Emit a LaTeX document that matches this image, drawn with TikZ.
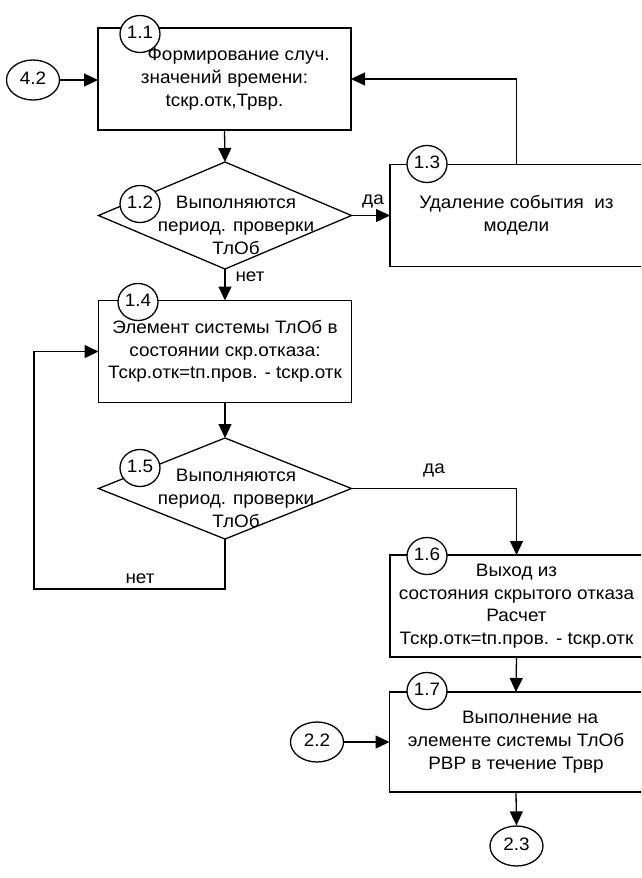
\documentclass[tikz,border=0pt]{standalone}
\usepackage{fontspec}
\setmainfont{Liberation Sans}
\usepackage{graphicx}
\usetikzlibrary{shapes.geometric,arrows.meta}
% text is a little wider than high in the drawing
\newcommand{\sx}[1]{\scalebox{1.05}[1]{\begin{tabular}{@{}c@{}}#1\end{tabular}}}
\tikzset{box/.style={draw, rectangle, minimum width=253pt, minimum height=102pt, inner sep=0pt, outer sep=0pt},
dec/.style={draw, diamond, minimum width=253pt, inner sep=0pt, outer sep=0pt},
num/.style={draw, ellipse, fill=white, minimum width=40pt, minimum height=37pt, inner sep=0pt},
con/.style={draw, ellipse, minimum width=53pt, minimum height=40pt, inner sep=0pt},
arr/.style={-{Triangle[length=14pt,width=13pt]}}}

\begin{document}
\begin{tikzpicture}[x=1pt,y=-1pt,line width=1.3pt,
  every node/.style={font=\fontsize{18}{22.8}\selectfont}]
\useasboundingbox (0,0) rectangle (641,878);
\clip (0,0) rectangle (641,878);

% boxes
\node[box] (b11) at (224.5,79) {\sx{\hspace*{1.5em}Формирование случ.\\значений времени:\\tскр.отк,Трвр.}};
\node[dec, minimum height=107pt] (d12) at (225,215.5) {};
\node[box] (b13) at (516.5,215.5) {\sx{Удаление события~~из\\модели}};
\node[box] (b14) at (225,351.5) {\sx{Элемент системы ТлОб в\\состоянии скр.отказа:\\Тскр.отк=tп.пров. - tскр.отк}};
\node[dec, minimum height=101pt] (d15) at (225,488.5) {};
\node[box] (b16) at (516.5,606) {\sx{Выход из\\состояния скрытого отказа\\Расчет\\Тскр.отк=tп.пров. - tскр.отк}};
\node[box, minimum height=100pt] (b17) at (516,742) {\sx{\hspace*{1.5em}Выполнение на\\элементе системы ТлОб\\РВР в течение Трвр}};

% text of the checks
\node (t12) at (236,227) {\sx{Выполняются\\период. проверки\\ТлОб}};
\node (t15) at (236,500) {\sx{Выполняются\\период. проверки\\ТлОб}};

% connectors
\node[con] (c42) at (33,80) {\sx{4.2}};
\node[con] (c22) at (317,742) {\sx{2.2}};
\node[con] (c23) at (516.5,846) {\sx{2.3}};
\coordinate (lp) at (34,589);

\draw[arr] (c42) -- (c42 -| b11.west);
\draw[arr] (b11.south) -- (d12.north);
\draw[arr] (d12.east) -- (d12.east -| b13.west);
\draw[arr] (b13.north) |- (b11.east);
\draw[arr] (d12.south) -- (b14.north);
\draw[arr] (b14.south) -- (d15.north);
\draw[arr] (d15.east) -| (b16.north);
\draw[arr] (d15.south) |- (lp) |- (b14.west);
\draw[arr] (b16.south) -- (b17.north);
\draw[arr] (c22) -- (c22 -| b17.west);
\draw[arr] (b17.south) -- (c23.north);

%labels
\node (y12) at (373,200) {\sx{да}};
\node (n12) at (250,277) {\sx{нет}};
\node (y15) at (434,469) {\sx{да}};
\node (n15) at (140,579) {\sx{нет}};

% numbers of the steps
\foreach \x/\y/\t/\nm in {140/34/1.1/s11, 140/204/1.2/s12, 427/164/1.3/s13, 138/302/1.4/s14,
  140/468/1.5/s15, 427/556/1.6/s16, 427/691/1.7/s17}
  \node[num] (\nm) at (\x,\y) {\sx{\t}};

\end{tikzpicture}
\end{document}
